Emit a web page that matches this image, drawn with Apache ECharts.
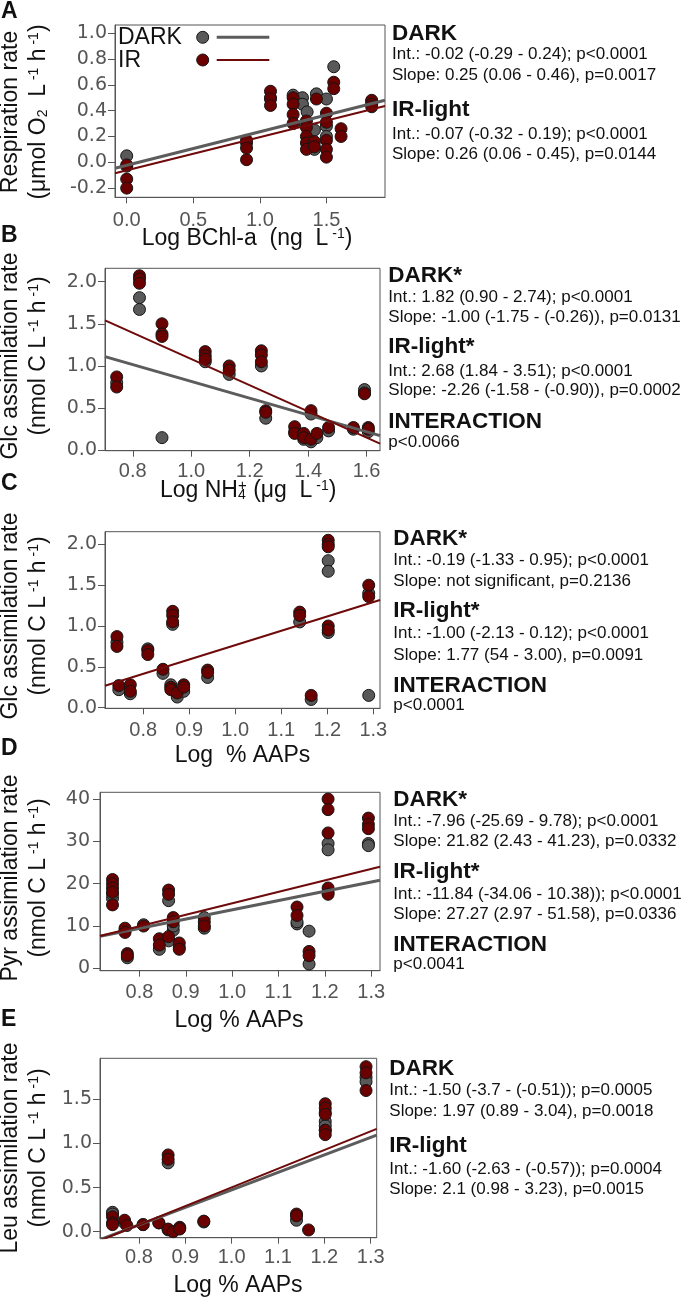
<!DOCTYPE html>
<html><head><meta charset="utf-8">
<script src="https://cdn.jsdelivr.net/npm/echarts@6/dist/echarts.min.js"></script>
<style>html,body{margin:0;padding:0;background:#fff}#c{width:685px;height:1301px}</style>
</head><body><div id="c"></div>
<script>
// ---------------- DATA ----------------
// Panel A: Respiration vs Log BChl-a
const A_dark = [[0,0.05],[0,-0.03],[0.9,0.15],[1.08,0.5],[1.25,0.52],[1.32,0.5],[1.32,0.45],[1.355,0.39],[1.34,0.3],[1.425,0.53],[1.41,0.25],[1.41,0.1],[1.5,0.49],[1.5,0.28],[1.5,0.2],[1.555,0.74],[1.84,0.47]];
const A_ir = [[0,-0.02],[0,-0.13],[0,-0.2],[0.9,0.17],[0.9,0.11],[0.9,0.02],[1.08,0.55],[1.08,0.49],[1.08,0.44],[1.25,0.5],[1.25,0.45],[1.25,0.37],[1.25,0.3],[1.35,0.32],[1.35,0.27],[1.35,0.2],[1.35,0.15],[1.35,0.1],[1.425,0.49],[1.41,0.16],[1.41,0.12],[1.5,0.38],[1.5,0.31],[1.5,0.17],[1.5,0.1],[1.5,0.04],[1.555,0.62],[1.555,0.57],[1.61,0.26],[1.61,0.2],[1.84,0.48],[1.84,0.45],[1.84,0.43]];
const A_darkLine = [[-0.088,-0.046],[1.94,0.48]];
const A_irLine = [[-0.088,-0.085],[1.94,0.436]];
const A_xTicks = ['0.0','0.5','1.0','1.5'];
const A_yTicks = ['-0.2','0.0','0.2','0.4','0.6','0.8','1.0'];
const A_notes = ['DARK','Int.: -0.02 (-0.29 - 0.24); p<0.0001','Slope: 0.25 (0.06 - 0.46), p=0.0017','IR-light','Int.: -0.07 (-0.32 - 0.19); p<0.0001','Slope: 0.26 (0.06 - 0.45), p=0.0144'];

// Panel B: Glc vs Log NH4+
const B_dark = [[0.745,0.8],[0.823,1.81],[0.823,1.67],[0.9,0.15],[1.048,1.05],[1.13,0.9],[1.24,1.0],[1.255,0.38],[1.354,0.22],[1.385,0.13],[1.41,0.43],[1.41,0.1],[1.43,0.15],[1.47,0.23],[1.555,0.25],[1.593,0.72],[1.593,0.68],[1.606,0.22]];
const B_ir = [[0.745,0.87],[0.745,0.75],[0.823,2.07],[0.823,2.03],[0.823,1.98],[0.9,1.5],[0.9,1.38],[0.9,1.35],[1.048,1.17],[1.048,1.12],[1.048,1.08],[1.13,1.0],[1.13,0.95],[1.24,1.18],[1.24,1.13],[1.24,1.05],[1.255,0.47],[1.255,0.45],[1.354,0.28],[1.354,0.2],[1.385,0.2],[1.385,0.15],[1.41,0.47],[1.41,0.13],[1.43,0.2],[1.47,0.27],[1.555,0.27],[1.593,0.67],[1.606,0.27],[1.606,0.25]];
const B_darkLine = [[0.705,1.11],[1.646,0.174]];
const B_irLine = [[0.705,1.54],[1.646,0.079]];
const B_xTicks = ['0.8','1.0','1.2','1.4','1.6'];
const B_yTicks = ['0.0','0.5','1.0','1.5','2.0'];
const B_notes = ['DARK*','Int.: 1.82 (0.90 - 2.74); p<0.0001','Slope: -1.00 (-1.75 - (-0.26)), p=0.0131','IR-light*','Int.: 2.68 (1.84 - 3.51); p<0.0001','Slope: -2.26 (-1.58 - (-0.90)), p=0.0002','INTERACTION','p<0.0066'];

// Panel C: Glc vs Log % AAPs
const C_dark = [[0.743,0.8],[0.747,0.22],[0.772,0.17],[0.81,0.72],[0.843,0.42],[0.864,1.02],[0.86,0.28],[0.874,0.13],[0.888,0.2],[0.94,0.37],[1.14,1.05],[1.165,0.1],[1.202,1.8],[1.202,1.67],[1.202,0.92],[1.29,1.4],[1.29,0.15]];
const C_ir = [[0.743,0.87],[0.743,0.75],[0.747,0.27],[0.772,0.28],[0.772,0.2],[0.81,0.7],[0.81,0.65],[0.843,0.47],[0.864,1.18],[0.864,1.13],[0.864,1.05],[0.86,0.25],[0.86,0.22],[0.874,0.18],[0.888,0.28],[0.888,0.25],[0.94,0.46],[0.94,0.43],[1.14,1.17],[1.14,1.13],[1.165,0.15],[1.202,2.05],[1.202,2.0],[1.202,1.97],[1.202,1.0],[1.202,0.95],[1.29,1.5],[1.29,1.36]];
const C_irLine = [[0.717,0.269],[1.3145,1.318]];
const C_xTicks = ['0.8','0.9','1.0','1.1','1.2','1.3'];
const C_yTicks = ['0.0','0.5','1.0','1.5','2.0'];
const C_notes = ['DARK*','Int.: -0.19 (-1.33 - 0.95); p<0.0001','Slope: not significant, p=0.2136','IR-light*','Int.: -1.00 (-2.13 - 0.12); p<0.0001','Slope: 1.77 (54 - 3.00), p=0.0091','INTERACTION','p<0.0001'];

// Panel D: Pyr vs Log % AAPs
const D_dark = [[0.742,16.5],[0.742,17.5],[0.769,9],[0.774,2.5],[0.809,10.3],[0.843,4.5],[0.863,16],[0.863,6.5],[0.873,9],[0.873,10],[0.886,5],[0.94,12],[0.94,9.5],[1.14,10.5],[1.14,11],[1.166,8.8],[1.166,1.0],[1.207,29.5],[1.207,28],[1.207,18],[1.294,29.5],[1.294,29]];
const D_ir = [[0.742,21],[0.742,20],[0.742,19],[0.742,18],[0.742,15],[0.769,9.5],[0.769,8.5],[0.774,3.5],[0.774,3],[0.809,10],[0.843,7],[0.843,5.5],[0.863,18.5],[0.863,17.5],[0.863,7.5],[0.873,12],[0.873,11],[0.886,6],[0.886,4.5],[0.94,11],[0.94,10],[1.14,14.5],[1.14,12.5],[1.166,4],[1.166,3],[1.207,40],[1.207,37.5],[1.207,32],[1.207,19],[1.207,17.5],[1.294,35.5],[1.294,34],[1.294,33]];
const D_darkLine = [[0.715,7.6],[1.319,20.8]];
const D_irLine = [[0.715,7.65],[1.319,24.0]];
const D_xTicks = ['0.8','0.9','1.0','1.1','1.2','1.3'];
const D_yTicks = ['0','10','20','30','40'];
const D_notes = ['DARK*','Int.: -7.96 (-25.69 - 9.78); p<0.0001','Slope: 21.82 (2.43 - 41.23), p=0.0332','IR-light*','Int.: -11.84 (-34.06 - 10.38)); p<0.0001','Slope: 27.27 (2.97 - 51.58), p=0.0336','INTERACTION','p<0.0041'];

// Panel E: Leu vs Log % AAPs
const E_dark = [[0.743,0.22],[0.743,0.2],[0.769,0.1],[0.809,0.08],[0.843,0.1],[0.863,0.78],[0.863,0.02],[0.888,0.04],[0.94,0.11],[1.14,0.13],[1.202,1.35],[1.202,1.25],[1.202,1.2],[1.202,1.15],[1.29,1.75],[1.29,1.7]];
const E_ir = [[0.743,0.17],[0.743,0.1],[0.743,0.08],[0.769,0.13],[0.774,0.07],[0.809,0.08],[0.843,0.1],[0.863,0.87],[0.863,0.82],[0.863,0.03],[0.874,0.0],[0.888,0.05],[0.888,0.03],[0.94,0.12],[1.14,0.2],[1.14,0.18],[1.166,0.02],[1.202,1.45],[1.202,1.4],[1.202,1.33],[1.202,1.15],[1.202,1.1],[1.29,1.87],[1.29,1.8],[1.29,1.6]];
const E_darkLine = [[0.716,-0.09],[1.313,1.095]];
const E_irLine = [[0.716,-0.1],[1.313,1.165]];
const E_xTicks = ['0.8','0.9','1.0','1.1','1.2','1.3'];
const E_yTicks = ['0.0','0.5','1.0','1.5'];
const E_notes = ['DARK','Int.: -1.50 (-3.7 - (-0.51)); p=0.0005','Slope: 1.97 (0.89 - 3.04), p=0.0018','IR-light','Int.: -1.60 (-2.63 - (-0.57)); p=0.0004','Slope: 2.1 (0.98 - 3.23), p=0.0015'];

const legendNames = ['DARK','IR'];

// ---------------- LAYOUT / STYLE ----------------
const F = "'Liberation Sans', Arial, Helvetica, sans-serif";
const FY = "'DejaVu Sans', 'Liberation Sans', sans-serif";
const TXT = '#111111', AX = '#555555';
const DARK_FILL = '#595959', IR_FILL = '#6b0000', EDGE = '#151515';
const DARK_LINE = '#5c5c5c', IR_LINE = '#6e0a0a';

const panels = [
  {letter:'A', letterBase:20, dark:A_dark, ir:A_ir, darkLine:A_darkLine, irLine:A_irLine, xt:A_xTicks, yt:A_yTicks,
   grid:{left:115, top:25, width:270, height:172.3}, xr:[-0.088,1.94], yr:[-0.271,1.063], xm:13, ym:8,
   yTitle1:'Respiration rate', yTitle2:'(μmol O{sub|2}  L{sup| -1} h{sup| -1})', yc:112,
   xTitle:'Log BChl-a  (ng  L{sup| -1})', xAlign:'center', xTx:247, xTBase:246.7,
   notes:A_notes, nx:392, nb:[41.7,60.7,81.7,117.3,140,160.7], bold:[1,0,0,1,0,0]},
  {letter:'B', letterBase:243.3, dark:B_dark, ir:B_ir, darkLine:B_darkLine, irLine:B_irLine, xt:B_xTicks, yt:B_yTicks,
   grid:{left:105, top:268.3, width:275, height:182.4}, xr:[0.705,1.646], yr:[-0.005,2.158], xm:11, ym:8,
   yTitle1:'Glc assimilation rate', yTitle2:'(nmol C L{sup| -1} h{sup| -1})', yc:356,
   xTitle:'Log NH{sb|4}{sp|+} (μg  L{sup| -1})', xAlign:'left', xTx:160, xTBase:498.3,
   notes:B_notes, nx:388.3, nb:[283.3,303.3,323.3,355,377.3,396.7,430,448.3], bold:[1,0,0,1,0,0,1,0]},
  {letter:'C', letterBase:491.7, dark:C_dark, ir:C_ir, darkLine:null, irLine:C_irLine, xt:C_xTicks, yt:C_yTicks,
   grid:{left:105, top:531.7, width:275, height:176.6}, xr:[0.717,1.3145], yr:[-0.008,2.155], xm:12, ym:8,
   yTitle1:'Glc assimilation rate', yTitle2:'(nmol C L{sup| -1} h{sup| -1})', yc:616,
   xTitle:'Log  % AAPs', xAlign:'center', xTx:242.5, xTBase:763.3,
   notes:C_notes, nx:393.3, nb:[546.7,566,587,618.3,639.3,661,693.3,711.7], bold:[1,0,0,1,0,0,1,0]},
  {letter:'D', letterBase:756.7, dark:D_dark, ir:D_ir, darkLine:D_darkLine, irLine:D_irLine, xt:D_xTicks, yt:D_yTicks,
   grid:{left:100, top:792.3, width:280, height:178.4}, xr:[0.715,1.319], yr:[-0.55,41.6], xm:11.5, ym:10,
   yTitle1:'Pyr assimilation rate', yTitle2:'(nmol C L{sup| -1} h{sup| -1})', yc:878,
   xTitle:'Log % AAPs', xAlign:'center', xTx:239, xTBase:1029,
   notes:D_notes, nx:393.3, nb:[807.3,827.3,847.3,879.3,900,920.7,952.3,970], bold:[1,0,0,1,0,0,1,0]},
  {letter:'E', letterBase:1028, dark:E_dark, ir:E_ir, darkLine:E_darkLine, irLine:E_irLine, xt:E_xTicks, yt:E_yTicks,
   grid:{left:100, top:1058.3, width:276.7, height:179.4}, xr:[0.716,1.313], yr:[-0.068,1.965], xm:10, ym:8,
   yTitle1:'Leu assimilation rate', yTitle2:'(nmol C L{sup| -1} h{sup| -1})', yc:1148,
   xTitle:'Log % AAPs', xAlign:'center', xTx:238, xTBase:1294,
   notes:E_notes, nx:389.3, nb:[1076.7,1096,1117.3,1153.3,1175,1195.7], bold:[1,0,0,1,0,0]}
];

const rich = {
  sup:{fontSize:14, fontFamily:F, fill:TXT, color:TXT, verticalAlign:'top'},
  sub:{fontSize:14, fontFamily:F, fill:TXT, color:TXT, verticalAlign:'bottom', lineHeight:10},
  sb:{fontSize:14, fontFamily:F, fill:TXT, color:TXT, verticalAlign:'bottom', lineHeight:10, width:0},
  sp:{fontSize:15, fontFamily:F, fill:TXT, color:TXT, verticalAlign:'top'}
};

function lab(list){
  return function(v){
    for (const s of list){ if (Math.abs(Number(s) - v) < 1e-9) return s; }
    return '';
  };
}

const grids = [], xAxes = [], yAxes = [], series = [], graphic = [];

function text(x, base, str, size, bold, extra){
  return Object.assign({type:'text', x:x, y:base - 0.35*size, z:100,
    style:{text:str, fontSize:size, fontFamily:F, fontWeight:bold?'bold':'normal', fill:TXT, align:'left', verticalAlign:'middle'}}, extra||{});
}

panels.forEach((p, i) => {
  grids.push(Object.assign({show:true, borderColor:AX, borderWidth:1, containLabel:false}, p.grid));
  xAxes.push({type:'value', gridIndex:i, min:p.xr[0], max:p.xr[1],
    axisLine:{show:true, onZero:false, lineStyle:{color:AX, width:1}},
    splitLine:{show:false},
    axisTick:{show:true, length:6, lineStyle:{color:AX, width:1}, customValues:p.xt.map(Number)},
    axisLabel:{customValues:p.xt.map(Number), formatter:lab(p.xt), fontSize:20, fontFamily:F, color:AX, margin:p.xm}
  });
  yAxes.push({type:'value', gridIndex:i, min:p.yr[0], max:p.yr[1],
    axisLine:{show:true, onZero:false, lineStyle:{color:AX, width:1}},
    splitLine:{show:false},
    axisTick:{show:true, length:7, lineStyle:{color:AX, width:1}, customValues:p.yt.map(Number)},
    axisLabel:{customValues:p.yt.map(Number), formatter:lab(p.yt), fontSize:19, fontFamily:FY, color:AX, margin:p.ym}
  });
  series.push({type:'scatter', xAxisIndex:i, yAxisIndex:i, data:p.dark, symbolSize:12, z:2,
    itemStyle:{color:DARK_FILL, borderColor:EDGE, borderWidth:1, opacity:1}, silent:true});
  series.push({type:'scatter', xAxisIndex:i, yAxisIndex:i, data:p.ir, symbolSize:12, z:3,
    itemStyle:{color:IR_FILL, borderColor:EDGE, borderWidth:1, opacity:1}, silent:true});
  if (p.darkLine) series.push({type:'line', xAxisIndex:i, yAxisIndex:i, data:p.darkLine, symbol:'none', z:4, clip:true, silent:true,
    lineStyle:{color:DARK_LINE, width:3}});
  if (p.irLine) series.push({type:'line', xAxisIndex:i, yAxisIndex:i, data:p.irLine, symbol:'none', z:5, clip:true, silent:true,
    lineStyle:{color:IR_LINE, width:2}});

  graphic.push(text(1, p.letterBase, p.letter, 23, true));
  graphic.push({type:'text', x:11, y:p.yc, rotation:Math.PI/2, z:100,
    style:{text:p.yTitle1, fontSize:23, fontFamily:F, fill:TXT, align:'center', verticalAlign:'middle'}});
  graphic.push({type:'text', x:39, y:p.yc, rotation:Math.PI/2, z:100,
    style:{text:p.yTitle2, fontSize:23, fontFamily:F, fill:TXT, align:'center', verticalAlign:'middle', rich:rich}});
  graphic.push({type:'text', x:p.xTx, y:p.xTBase - 8, z:100,
    style:{text:p.xTitle, fontSize:23, fontFamily:F, fill:TXT, align:p.xAlign, verticalAlign:'middle', rich:rich}});
  p.notes.forEach((s, k) => {
    const b = p.bold[k] === 1;
    graphic.push(text(p.nx, p.nb[k], s, b ? 22.5 : 17, b));
  });
});

// legend inside panel A
graphic.push(text(118, 45.7, legendNames[0], 23, false));
graphic.push(text(118, 68.3, legendNames[1], 23, false));
graphic.push({type:'circle', z:100, shape:{cx:202.7, cy:37.3, r:6}, style:{fill:DARK_FILL, stroke:EDGE, lineWidth:1}});
graphic.push({type:'circle', z:100, shape:{cx:202.7, cy:60, r:6}, style:{fill:IR_FILL, stroke:EDGE, lineWidth:1}});
graphic.push({type:'line', z:100, shape:{x1:216.7, y1:37.3, x2:269.3, y2:37.3}, style:{stroke:DARK_LINE, lineWidth:3}});
graphic.push({type:'line', z:100, shape:{x1:216.7, y1:60, x2:269.3, y2:60}, style:{stroke:IR_LINE, lineWidth:2}});

const chart = echarts.init(document.getElementById('c'), null, {renderer:'canvas'});
chart.setOption({
  animation:false,
  backgroundColor:'#ffffff',
  grid:grids, xAxis:xAxes, yAxis:yAxes, series:series, graphic:graphic
});
</script>
</body></html>
